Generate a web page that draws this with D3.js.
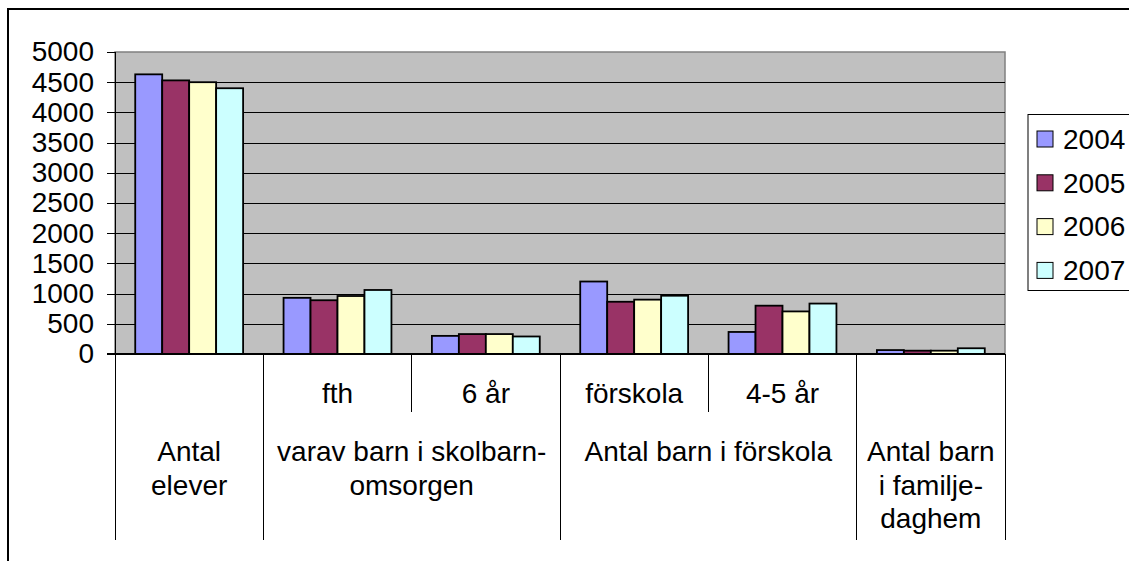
<!DOCTYPE html>
<meta charset="utf-8">
<style>
body { margin: 0; background: #fff; }
svg { display: block; }
text { font-family: "Liberation Sans", Arial, sans-serif; font-size: 28px; fill: #000; }
.axis path, .axis line { stroke: #000; shape-rendering: crispEdges; }
.grid line { stroke: #000; stroke-width: 1px; shape-rendering: crispEdges; }
.bar { stroke: #000; stroke-width: 1.8px; }
.tbl { stroke: #000; stroke-width: 1px; shape-rendering: crispEdges; }
</style>
<body>
<script src="https://d3js.org/d3.v7.min.js"></script>
<script>

// leaf categories along the x axis
var categories = ["Antal elever", "fth", "6 år", "förskola", "4-5 år", "Antal barn i familjedaghem"];
var subLabels = [null, "fth", "6 år", "förskola", "4-5 år", null];
// top level of the category axis
var groupLabels = [["Antal", "elever"], ["varav barn i skolbarn-", "omsorgen"], ["Antal barn i förskola"], ["Antal barn", "i familje-", "daghem"]];
var groupSpans = [1, 2, 2, 1];

var years = ["2004", "2005", "2006", "2007"];
var v2004 = [4630, 930, 300, 1200, 365, 65];
var v2005 = [4530, 890, 330, 865, 800, 55];
var v2006 = [4500, 960, 330, 900, 705, 55];
var v2007 = [4400, 1060, 290, 965, 835, 95];
var yTicks = [0, 500, 1000, 1500, 2000, 2500, 3000, 3500, 4000, 4500, 5000];

var colors = ["#9999ff", "#993366", "#ffffcc", "#ccffff"];
var series = [v2004, v2005, v2006, v2007];

var W = 1129, H = 561;
var plot = {left: 115, top: 52, right: 1005, bottom: 354};

var svg = d3.select("body").append("svg")
	.attr("width", W)
	.attr("height", H);

// outer chart border
svg.append("rect")
	.attr("x", 8).attr("y", 9)
	.attr("width", W + 20).attr("height", H + 20)
	.attr("fill", "none")
	.attr("stroke", "#000")
	.attr("stroke-width", 2);

var x = d3.scaleBand()
	.domain(categories)
	.range([plot.left, plot.right])
	.padding(0);

var xs = d3.scaleBand()
	.domain(years)
	.range([0, x.bandwidth()])
	.paddingInner(0)
	.paddingOuter(0.75);

var y = d3.scaleLinear()
	.domain([0, 5000])
	.range([plot.bottom, plot.top]);

var color = d3.scaleOrdinal().domain(years).range(colors);

// plot background
svg.append("rect")
	.attr("x", plot.left).attr("y", plot.top)
	.attr("width", plot.right - plot.left)
	.attr("height", plot.bottom - plot.top)
	.attr("fill", "#c0c0c0")
	.attr("stroke", "#808080")
	.attr("stroke-width", 1.5);

svg.append("g")
	.attr("class", "grid")
	.selectAll("line")
	.data(yTicks.slice(1, -1))
	.enter().append("line")
	.attr("x1", plot.left).attr("x2", plot.right)
	.attr("y1", function(d) { return Math.round(y(d)) + 0.5; })
	.attr("y2", function(d) { return Math.round(y(d)) + 0.5; });

// bars
var rows = [];
categories.forEach(function(c, i) {
	years.forEach(function(yr, j) {
		rows.push({cat: c, year: yr, value: series[j][i]});
	});
});

svg.append("g").selectAll("rect")
	.data(rows)
	.enter().append("rect")
	.attr("class", "bar")
	.attr("x", function(d) { return x(d.cat) + xs(d.year); })
	.attr("y", function(d) { return y(d.value); })
	.attr("width", xs.bandwidth())
	.attr("height", function(d) { return y(0) - y(d.value); })
	.attr("fill", function(d) { return color(d.year); });

// y axis
var yAxis = d3.axisLeft(y).tickValues(yTicks).tickFormat(d3.format("d")).tickSize(8).tickPadding(13);
var ya = svg.append("g")
	.attr("class", "axis")
	.attr("transform", "translate(" + plot.left + ",0)")
	.call(yAxis);
ya.select(".domain").attr("d", "M0," + plot.top + "V" + plot.bottom);
ya.selectAll("text").style("font-size", "28px").style("font-family", "'Liberation Sans', Arial, sans-serif");

// x axis line
svg.append("line")
	.attr("class", "tbl")
	.attr("x1", plot.left - 8).attr("x2", plot.right)
	.attr("y1", plot.bottom).attr("y2", plot.bottom)
	.style("stroke-width", "1.5px");

// category table below the axis
var tableBottom = 540, subBottom = 412;
var edges = [0];
groupSpans.forEach(function(s, i) { edges.push(edges[i] + s); });
var step = x.step();

svg.append("g").selectAll("line")
	.data(edges)
	.enter().append("line")
	.attr("class", "tbl")
	.attr("x1", function(d) { return plot.left + d * step; })
	.attr("x2", function(d) { return plot.left + d * step; })
	.attr("y1", plot.bottom).attr("y2", tableBottom);

// short separators between sub labels inside a group
var subSep = [];
edges.slice(0, -1).forEach(function(e, i) {
	for (var k = 1; k < groupSpans[i]; k++) subSep.push(e + k);
});
svg.append("g").selectAll("line")
	.data(subSep)
	.enter().append("line")
	.attr("class", "tbl")
	.attr("x1", function(d) { return plot.left + d * step; })
	.attr("x2", function(d) { return plot.left + d * step; })
	.attr("y1", plot.bottom).attr("y2", subBottom);

svg.append("g").selectAll("text")
	.data(categories.filter(function(c, i) { return subLabels[i]; }))
	.enter().append("text")
	.attr("x", function(d) { return x(d) + x.bandwidth() / 2; })
	.attr("y", 403)
	.attr("text-anchor", "middle")
	.text(function(d) { return subLabels[categories.indexOf(d)]; });

var gl = svg.append("g").selectAll("text")
	.data(groupLabels)
	.enter().append("text")
	.attr("text-anchor", "middle")
	.attr("transform", function(d, i) {
		var cx = plot.left + (edges[i] + groupSpans[i] / 2) * step;
		return "translate(" + cx + ",461)";
	});
gl.selectAll("tspan")
	.data(function(d) { return d; })
	.enter().append("tspan")
	.attr("x", 0)
	.attr("y", function(d, i) { return i * 33.5; })
	.text(function(d) { return d; });

// legend
var legend = svg.append("g");
legend.append("rect")
	.attr("x", 1028).attr("y", 114.5)
	.attr("width", 140).attr("height", 176)
	.attr("fill", "#fff")
	.attr("stroke", "#000")
	.attr("stroke-width", 1);

var li = legend.selectAll("g.item")
	.data(years)
	.enter().append("g")
	.attr("class", "item")
	.attr("transform", function(d, i) { return "translate(1037," + (139 + i * 43.8) + ")"; });
li.append("rect")
	.attr("x", 0).attr("y", -8)
	.attr("width", 16).attr("height", 16)
	.attr("fill", function(d) { return color(d); })
	.attr("stroke", "#000")
	.attr("stroke-width", 1);
li.append("text")
	.attr("x", 26)
	.attr("dy", "0.35em")
	.text(function(d) { return d; });

</script>
</body>
